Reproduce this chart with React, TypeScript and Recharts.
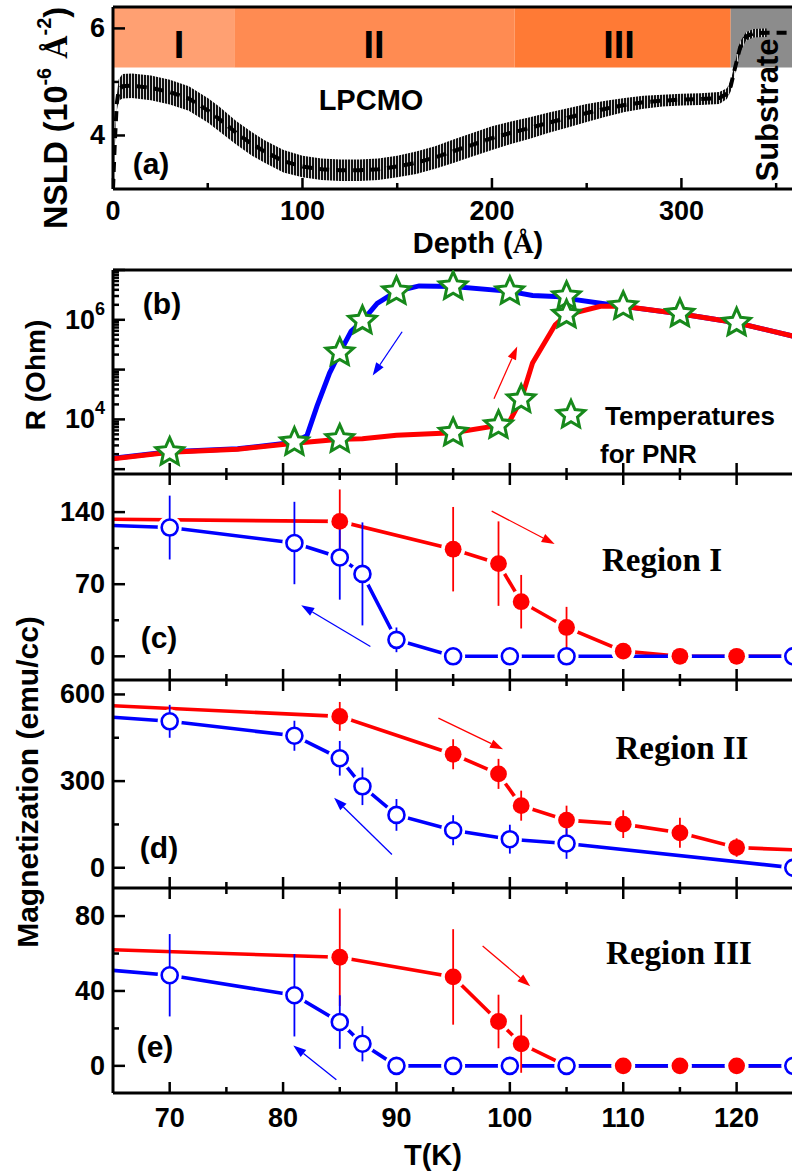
import React from 'react';
import {
  ComposedChart,
  Line,
  Scatter,
  Area,
  XAxis,
  YAxis,
  ReferenceArea,
  ReferenceLine,
} from 'recharts';

const FONT = '"Liberation Sans", Arial, Helvetica, sans-serif';
const SERIF = '"Liberation Serif", "Times New Roman", serif';
const RED = '#ff0000';
const BLUE = '#0000ff';
const GREEN = '#17891b';

// ---------- Panel (a): NSLD depth profile ----------
const depthA = [0, 1, 2, 3, 5, 10, 20, 30, 40, 50, 56, 65, 73, 80, 90, 100, 110, 120, 130, 140, 150, 160, 170, 180, 190, 200, 210, 220, 230, 240, 250, 260, 270, 280, 290, 300, 310, 320, 324, 326, 328, 331, 334, 338, 345, 360, 380];
const nsldA = [3.0, 3.9, 4.6, 4.85, 4.92, 4.93, 4.89, 4.81, 4.69, 4.47, 4.31, 4.05, 3.85, 3.7, 3.52, 3.42, 3.37, 3.35, 3.35, 3.37, 3.42, 3.49, 3.59, 3.71, 3.83, 3.95, 4.05, 4.14, 4.24, 4.33, 4.42, 4.5, 4.57, 4.62, 4.65, 4.67, 4.68, 4.7, 4.78, 4.92, 5.22, 5.65, 5.85, 5.91, 5.92, 5.92, 5.92];
const nsldErrA = [0.02, 0.08, 0.14, 0.2, 0.23, 0.23, 0.23, 0.23, 0.23, 0.23, 0.23, 0.22, 0.22, 0.21, 0.21, 0.2, 0.2, 0.2, 0.2, 0.2, 0.2, 0.21, 0.21, 0.22, 0.22, 0.22, 0.21, 0.2, 0.19, 0.18, 0.17, 0.15, 0.13, 0.12, 0.11, 0.11, 0.11, 0.11, 0.1, 0.1, 0.1, 0.1, 0.08, 0.08, 0.08, null, null];
const regionEdgesA = [0, 64, 212, 326, 380];
const regionFillsA = ['#ffa072', '#ff8b52', '#ff7a35', '#8c8c8c'];
const regionLabelsA = ['I', 'II', 'III'];
const bandBottomA = 5.27;
const depthTicks = [0, 50, 100, 150, 200, 250, 300, 350];
const depthMajor = [0, 100, 200, 300];
const nsldTicks = [4, 5, 6];
const nsldMajor = [4, 6];

// ---------- Panel (b): resistance ----------
const tempRedB = [65, 70, 76, 81, 85, 87, 90, 95, 99, 100, 101, 102, 104, 105, 108, 110, 115, 120, 125, 130];
const resRedB = [1620, 2190, 2510, 3310, 3980, 4070, 4790, 5370, 7590, 9330, 25100, 135000, 794000, 1260000, 1860000, 1860000, 1320000, 871000, 468000, 200000];
const tempBlueB = [65, 70, 76, 81, 82.1, 83, 84.1, 85, 86, 87, 88.3, 90, 92, 95, 100, 102, 104, 105, 108, 110, 115, 120, 125, 130];
const resBlueB = [1660, 2240, 2570, 3470, 4680, 18600, 85100, 219000, 589000, 955000, 2140000, 3720000, 4790000, 4680000, 3720000, 3090000, 2950000, 2690000, 2140000, 1860000, 1320000, 871000, 468000, 200000];
const starT = [70, 81, 85, 85, 87, 90, 95, 95, 99, 100, 101, 105, 105, 110, 115, 120];
const starR = [2190, 3470, 4000, 219000, 955000, 3720000, 5370, 4680000, 7590, 3720000, 25100, 2950000, 1260000, 1860000, 1320000, 871000];
const rTicks = [1000, 2000, 3000, 4000, 5000, 6000, 7000, 8000, 9000, 10000, 20000, 30000, 40000, 50000, 60000, 70000, 80000, 90000, 100000, 200000, 300000, 400000, 500000, 600000, 700000, 800000, 900000, 1000000, 2000000, 3000000, 4000000, 5000000, 6000000, 7000000, 8000000, 9000000, 10000000];
const rMajor = [1000, 10000, 100000, 1000000, 10000000];
const rLabels: Record<number, string> = { 10000: '4', 1000000: '6' };

// ---------- Panels (c)-(e): magnetization ----------
const tempRedC = [65, 85, 95, 99, 101, 105, 110, 115, 120, 125];
const magRedC = [133, 131, 104, 90, 53, 28, 5, 0, 0, 0];
const errRedC = [null, 31, 41, 41, 26, 20, 7, 0, 0, null];
const tempBlueC = [65, 70, 81, 85, 87, 90, 95, 100, 105, 125];
const magBlueC = [127, 125, 110, 96, 80, 16, 0, 0, 0, 0];
const errBlueC = [null, 31, 40, 41, 50, 12, 0, 0, 0, 0];

const tempRedD = [65, 85, 95, 99, 101, 105, 110, 115, 120, 125];
const magRedD = [561, 524, 393, 325, 215, 165, 151, 121, 70, 62];
const errRedD = [null, 50, 52, 52, 52, 50, 48, 52, 32, null];
const tempBlueD = [65, 70, 81, 85, 87, 90, 95, 100, 105, 125];
const magBlueD = [521, 507, 457, 379, 282, 183, 130, 99, 84, 0];
const errBlueD = [null, 57, 52, 60, 65, 55, 52, 50, 53, 0];

const tempRedE = [65, 85, 95, 99, 101, 105, 110, 115, 120, 125];
const magRedE = [62, 58, 47.5, 23.7, 11.8, 0, 0, 0, 0, 0];
const errRedE = [null, 26, 25.5, 14.3, 15.5, 0, 0, 0, 0, null];
const tempBlueE = [65, 70, 81, 85, 87, 90, 95, 100, 105, 125];
const magBlueE = [51, 48.4, 37.7, 23.4, 11.8, 0, 0, 0, 0, 0];
const errBlueE = [null, 22, 22, 14.3, 9.4, 0, 0, 0, 0, 0];

const tempTicks = [70, 75, 80, 85, 90, 95, 100, 105, 110, 115, 120, 125];
const tempMajor = [70, 80, 90, 100, 110, 120];

// arrows: [x1, y1, x2, y2]
const arrowsB = { red: [98.6, 26000, 100.65, 290000], blue: [90.5, 575000, 87.9, 76000] };
const arrowsC = { red: [98.4, 141, 103.95, 109], blue: [87.7, 9.5, 81.6, 49.5] };
const arrowsD = { red: [93.7, 518, 99.4, 410], blue: [89.6, 46, 84.5, 242] };
const arrowsE = { red: [97.6, 64, 101.8, 42.5], blue: [84.7, -7.4, 80.9, 10.9] };

// ---------- helpers ----------
const pts = (t: number[], v: number[]) => t.map((x, i) => ({ x, y: v[i] }));
const marks = (t: number[], v: number[], e: (number | null)[]) =>
  t.map((x, i) => ({ x, y: v[i], e: e[i] })).filter((d) => d.e !== null);
// one two-point segment per error bar
const errSegs = (t: number[], v: number[], e: (number | null)[]) =>
  t
    .map((x, i) => ({ x, y: v[i], e: e[i] }))
    .filter((d) => d.e !== null && (d.e as number) > 0)
    .map((d) => [
      { x: d.x, y: d.y - (d.e as number) },
      { x: d.x, y: d.y + (d.e as number) },
    ]);

const textStyle = { fontFamily: FONT, fontWeight: 'bold' as const, fill: '#000' };

function yTick(majors: number[], label?: (v: number) => React.ReactNode) {
  return (p: any) => {
    const v = p.payload.value;
    const major = majors.includes(v);
    const len = major ? 12 : 6;
    const content = label ? label(v) : major ? String(v) : null;
    return (
      <g>
        <line x1={p.x} y1={p.y} x2={p.x + len} y2={p.y} stroke="#000" strokeWidth={2.5} />
        {content !== null && content !== undefined && (
          <text x={p.x - 8} y={p.y} textAnchor="end" dominantBaseline="central" fontSize={27} {...textStyle}>
            {content}
          </text>
        )}
      </g>
    );
  };
}

function xTick(majors: number[], both: boolean, labels: boolean, off = 24) {
  return (p: any) => {
    const v = p.payload.value;
    const major = majors.includes(v);
    const len = major ? 11 : 6;
    return (
      <g>
        <line x1={p.x} y1={p.y - len} x2={p.x} y2={both ? p.y + len : p.y} stroke="#000" strokeWidth={2.5} />
        {labels && major && (
          <text x={p.x} y={p.y + off} textAnchor="middle" dominantBaseline="central" fontSize={27} {...textStyle}>
            {v}
          </text>
        )}
      </g>
    );
  };
}

const arrowShape = (color: string) => (props: any) => {
  const { x1, y1, x2, y2 } = props;
  const ang = Math.atan2(y2 - y1, x2 - x1);
  const L = 13;
  const W = 4.5;
  const bx = x2 - L * Math.cos(ang);
  const by = y2 - L * Math.sin(ang);
  const p1 = `${bx + W * Math.sin(ang)},${by - W * Math.cos(ang)}`;
  const p2 = `${bx - W * Math.sin(ang)},${by + W * Math.cos(ang)}`;
  return (
    <g>
      <line x1={x1} y1={y1} x2={bx} y2={by} stroke={color} strokeWidth={1.3} />
      <polygon points={`${x2},${y2} ${p1} ${p2}`} fill={color} />
    </g>
  );
};

function starPath(cx: number, cy: number, R = 14.5, r = 6.8) {
  let d = '';
  for (let k = 0; k < 10; k++) {
    const a = -Math.PI / 2 + (k * Math.PI) / 5;
    const rad = k % 2 === 0 ? R : r;
    d += (k ? 'L' : 'M') + (cx + rad * Math.cos(a)).toFixed(2) + ',' + (cy + rad * Math.sin(a)).toFixed(2);
  }
  return d + 'Z';
}

const starShape = (p: any) => <path d={starPath(p.cx, p.cy)} fill="#fff" stroke={GREEN} strokeWidth={3} />;
const haloShape = (p: any) => <circle cx={p.cx} cy={p.cy} r={12} fill="#fff" />;
const noShape = () => <g />;
const openShape = (p: any) => <circle cx={p.cx} cy={p.cy} r={8} fill="#fff" stroke={BLUE} strokeWidth={2.6} />;
const filledShape = (p: any) => <circle cx={p.cx} cy={p.cy} r={8.4} fill={RED} />;

const axisLine = { stroke: '#000', strokeWidth: 3 };

function seg(a: number[]) {
  return [
    { x: a[0], y: a[1] },
    { x: a[2], y: a[3] },
  ];
}

type Series = { t: number[]; v: number[]; e: (number | null)[] };
type MagProps = {
  top: number;
  plotH: number;
  axisH: number;
  domain: [number, number];
  yTicks: number[];
  yMajor: number[];
  red: Series;
  blue: Series;
  arrows: { red: number[]; blue: number[] };
  last: boolean;
};

function MagPanel({ top, plotH, axisH, domain, yTicks, yMajor, red, blue, arrows, last }: MagProps) {
  const redMarks = marks(red.t, red.v, red.e);
  const blueMarks = marks(blue.t, blue.v, blue.e);
  return (
    <div style={{ position: 'absolute', left: 0, top }}>
      <ComposedChart width={850} height={plotH + axisH} margin={{ top: 0, right: 0, bottom: 0, left: 0 }}>
        <XAxis
          type="number"
          dataKey="x"
          domain={[65, 130]}
          ticks={tempTicks}
          interval={0}
          allowDataOverflow
          height={axisH}
          tickSize={0}
          tickMargin={0}
          tickLine={false}
          axisLine={axisLine}
          tick={xTick(tempMajor, !last, last, 25)}
        />
        <YAxis
          type="number"
          dataKey="y"
          domain={domain}
          ticks={yTicks}
          interval={0}
          allowDataOverflow
          width={113}
          tickSize={0}
          tickMargin={0}
          tickLine={false}
          axisLine={axisLine}
          tick={yTick(yMajor)}
        />
        <Line data={pts(red.t, red.v)} dataKey="y" stroke={RED} strokeWidth={3.6} dot={false} activeDot={false} isAnimationActive={false} />
        <Line data={pts(blue.t, blue.v)} dataKey="y" stroke={BLUE} strokeWidth={3.6} dot={false} activeDot={false} isAnimationActive={false} />
        <Scatter data={redMarks} shape={haloShape} isAnimationActive={false} />
        <Scatter data={blueMarks} shape={haloShape} isAnimationActive={false} />
        {errSegs(red.t, red.v, red.e).map((s, i) => (
          <Scatter key={`re${i}`} data={s} shape={noShape} line={{ stroke: RED, strokeWidth: 1.8 }} isAnimationActive={false} />
        ))}
        {errSegs(blue.t, blue.v, blue.e).map((s, i) => (
          <Scatter key={`be${i}`} data={s} shape={noShape} line={{ stroke: BLUE, strokeWidth: 1.8 }} isAnimationActive={false} />
        ))}
        <Scatter data={redMarks} shape={filledShape} isAnimationActive={false} />
        <Scatter data={blueMarks} shape={openShape} isAnimationActive={false} />
        <ReferenceLine segment={seg(arrows.red)} shape={arrowShape(RED)} />
        <ReferenceLine segment={seg(arrows.blue)} shape={arrowShape(BLUE)} />
      </ComposedChart>
    </div>
  );
}

export default function App() {
  const bandData = depthA
    .map((x, i) => ({ x, band: nsldErrA[i] === null ? null : [nsldA[i] - (nsldErrA[i] as number), nsldA[i] + (nsldErrA[i] as number)] }))
    .filter((d) => d.band !== null);
  const lineA = pts(depthA, nsldA);

  return (
    <div style={{ position: 'absolute', left: 0, top: 0, width: 792, height: 1175, overflow: 'hidden', background: '#fff' }}>
      {/* Panel (a) */}
      <div style={{ position: 'absolute', left: 0, top: 0 }}>
        <ComposedChart width={833} height={260} margin={{ top: 7, right: 0, bottom: 0, left: 0 }}>
          <defs>
            <pattern id="hatchA" width="3" height="8" patternUnits="userSpaceOnUse">
              <rect width="3" height="8" fill="#d8d8d8" />
              <rect width="2" height="8" fill="#111" />
            </pattern>
          </defs>
          <XAxis
            type="number"
            dataKey="x"
            domain={[0, 380]}
            ticks={depthTicks}
            interval={0}
            allowDataOverflow
            height={71}
            tickSize={0}
            tickMargin={0}
            tickLine={false}
            axisLine={axisLine}
            tick={xTick(depthMajor, false, true, 22)}
          />
          <YAxis
            type="number"
            dataKey="y"
            domain={[3, 6.4]}
            ticks={nsldTicks}
            interval={0}
            allowDataOverflow
            width={113}
            tickSize={0}
            tickMargin={0}
            tickLine={false}
            axisLine={axisLine}
            tick={yTick(nsldMajor)}
          />
          {regionFillsA.map((c, i) => (
            <ReferenceArea
              key={i}
              x1={regionEdgesA[i]}
              x2={regionEdgesA[i + 1]}
              y1={bandBottomA}
              y2={6.4}
              fill={c}
              fillOpacity={1}
              stroke="none"
            />
          ))}
          <Area data={bandData} dataKey="band" type="linear" fill="url(#hatchA)" fillOpacity={1} stroke="none" isAnimationActive={false} />
          <Line data={lineA} dataKey="y" type="linear" stroke="#000" strokeWidth={4} strokeDasharray="10 7" dot={false} activeDot={false} isAnimationActive={false} />
          <ReferenceLine y={6.4} stroke="#000" strokeWidth={3} />
        </ComposedChart>
      </div>

      {/* Panel (b) */}
      <div style={{ position: 'absolute', left: 0, top: 260 }}>
        <ComposedChart width={850} height={226} margin={{ top: 10, right: 0, bottom: 0, left: 0 }}>
          <XAxis
            type="number"
            dataKey="x"
            domain={[65, 130]}
            ticks={tempTicks}
            interval={0}
            allowDataOverflow
            height={12}
            tickSize={0}
            tickMargin={0}
            tickLine={false}
            axisLine={axisLine}
            tick={xTick(tempMajor, true, false)}
          />
          <YAxis
            type="number"
            dataKey="y"
            scale="log"
            domain={[800, 10000000]}
            ticks={rTicks}
            interval={0}
            allowDataOverflow
            width={113}
            tickSize={0}
            tickMargin={0}
            tickLine={false}
            axisLine={axisLine}
            tick={yTick(rMajor, (v) =>
              rLabels[v] ? (
                <>
                  10
                  <tspan dy={-11} fontSize={18}>
                    {rLabels[v]}
                  </tspan>
                </>
              ) : null
            )}
          />
          <Line data={pts(tempBlueB, resBlueB)} dataKey="y" stroke={BLUE} strokeWidth={5} dot={false} activeDot={false} isAnimationActive={false} />
          <Line data={pts(tempRedB, resRedB)} dataKey="y" stroke={RED} strokeWidth={5} dot={false} activeDot={false} isAnimationActive={false} />
          <Scatter data={pts(starT, starR)} shape={starShape} isAnimationActive={false} />
          <ReferenceLine segment={seg(arrowsB.red)} shape={arrowShape(RED)} />
          <ReferenceLine segment={seg(arrowsB.blue)} shape={arrowShape(BLUE)} />
          <ReferenceLine y={10000000} stroke="#000" strokeWidth={3} />
        </ComposedChart>
      </div>

      <MagPanel
        top={474}
        plotH={206}
        axisH={12}
        domain={[-23, 177]}
        yTicks={[0, 35, 70, 105, 140]}
        yMajor={[0, 70, 140]}
        red={{ t: tempRedC, v: magRedC, e: errRedC }}
        blue={{ t: tempBlueC, v: magBlueC, e: errBlueC }}
        arrows={arrowsC}
        last={false}
      />
      <MagPanel
        top={680}
        plotH={208}
        axisH={12}
        domain={[-70, 650]}
        yTicks={[0, 150, 300, 450, 600]}
        yMajor={[0, 300, 600]}
        red={{ t: tempRedD, v: magRedD, e: errRedD }}
        blue={{ t: tempBlueD, v: magBlueD, e: errBlueD }}
        arrows={arrowsD}
        last={false}
      />
      <MagPanel
        top={888}
        plotH={205}
        axisH={82}
        domain={[-14.5, 95]}
        yTicks={[0, 20, 40, 60, 80]}
        yMajor={[0, 40, 80]}
        red={{ t: tempRedE, v: magRedE, e: errRedE }}
        blue={{ t: tempBlueE, v: magBlueE, e: errBlueE }}
        arrows={arrowsE}
        last={true}
      />

      {/* Text annotations */}
      <svg width={792} height={1175} style={{ position: 'absolute', left: 0, top: 0, pointerEvents: 'none' }}>
        {/* panel a */}
        <text x={179} y={45} textAnchor="middle" dominantBaseline="central" fontSize={38} {...textStyle}>{regionLabelsA[0]}</text>
        <text x={374} y={45} textAnchor="middle" dominantBaseline="central" fontSize={38} {...textStyle}>{regionLabelsA[1]}</text>
        <text x={619} y={45} textAnchor="middle" dominantBaseline="central" fontSize={38} {...textStyle}>{regionLabelsA[2]}</text>
        <text x={371} y={100} textAnchor="middle" dominantBaseline="central" fontSize={29} {...textStyle}>LPCMO</text>
        <text x={767} y={110} transform="rotate(-90 767 110)" textAnchor="middle" dominantBaseline="central" fontSize={31} {...textStyle}>Substrate</text>
        <text x={151} y={163} textAnchor="middle" dominantBaseline="central" fontSize={30} {...textStyle}>(a)</text>
        <text x={478} y={243} textAnchor="middle" dominantBaseline="central" fontSize={29} {...textStyle}>
          Depth (<tspan fontFamily={SERIF}>Å</tspan>)
        </text>
        <text
          x={55}
          y={118}
          transform="rotate(-90 55 118)"
          textAnchor="middle"
          dominantBaseline="central"
          fontSize={34}
          textLength={222}
          lengthAdjust="spacingAndGlyphs"
          {...textStyle}
        >
          NSLD (10<tspan dy={-12} fontSize={21}>-6</tspan>
          <tspan dy={12}> </tspan>
          <tspan fontFamily={SERIF}>Å</tspan>
          <tspan dy={-12} fontSize={21}>-2</tspan>
          <tspan dy={12}>)</tspan>
        </text>

        {/* panel b */}
        <text x={162} y={303} textAnchor="middle" dominantBaseline="central" fontSize={30} {...textStyle}>(b)</text>
        <text x={35} y={375} transform="rotate(-90 35 375)" textAnchor="middle" dominantBaseline="central" fontSize={28} {...textStyle}>R (Ohm)</text>
        <path d={starPath(571, 415)} fill="#fff" stroke={GREEN} strokeWidth={3} />
        <text x={605} y={416} dominantBaseline="central" fontSize={26} {...textStyle}>Temperatures</text>
        <text x={600} y={454} dominantBaseline="central" fontSize={26} {...textStyle}>for PNR</text>

        {/* panels c-e */}
        <text x={159} y={637} textAnchor="middle" dominantBaseline="central" fontSize={30} {...textStyle}>(c)</text>
        <text x={159} y={847} textAnchor="middle" dominantBaseline="central" fontSize={30} {...textStyle}>(d)</text>
        <text x={155} y={1046} textAnchor="middle" dominantBaseline="central" fontSize={30} {...textStyle}>(e)</text>
        <text x={662} y={560} textAnchor="middle" dominantBaseline="central" fontSize={33} fontFamily={SERIF} fontWeight="bold" fill="#000">Region I</text>
        <text x={682} y={748} textAnchor="middle" dominantBaseline="central" fontSize={33} fontFamily={SERIF} fontWeight="bold" fill="#000">Region II</text>
        <text x={679} y={953} textAnchor="middle" dominantBaseline="central" fontSize={33} fontFamily={SERIF} fontWeight="bold" fill="#000">Region III</text>
        <text x={27} y={782} transform="rotate(-90 27 782)" textAnchor="middle" dominantBaseline="central" fontSize={30} {...textStyle}>Magnetization (emu/cc)</text>
        <text x={433} y={1155} textAnchor="middle" dominantBaseline="central" fontSize={29} {...textStyle}>T(K)</text>
      </svg>
    </div>
  );
}
